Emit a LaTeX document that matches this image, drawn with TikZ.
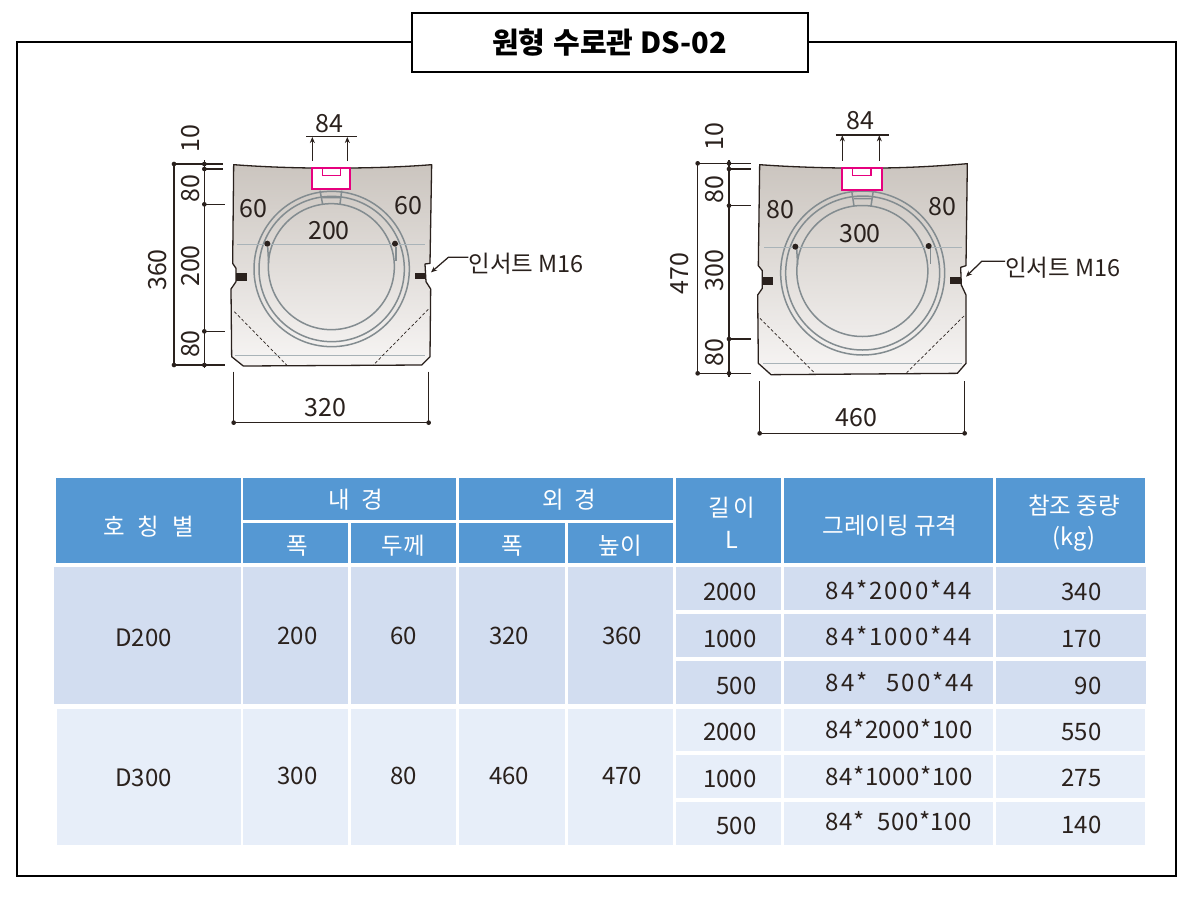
\documentclass[tikz,border=0pt]{standalone}
\usepackage{fontspec}
\setmainfont{Noto Sans CJK KR}
\usetikzlibrary{arrows.meta}
\newfontfamily\spacedfont[LetterSpace=8]{Noto Sans CJK KR}
\newfontfamily\slightfont[LetterSpace=2]{Noto Sans CJK KR}
\definecolor{hdr}{HTML}{5598D3}
\definecolor{rowa}{HTML}{D2DDF0}
\definecolor{rowb}{HTML}{E7EEF9}
\definecolor{ink}{HTML}{2A211D}
\definecolor{ringc}{HTML}{838C90}
\definecolor{thin}{HTML}{A9B3B8}
\definecolor{mag}{HTML}{E6007E}
\definecolor{bodytop}{HTML}{CBC5BF}
\definecolor{bodybot}{HTML}{F7F5F4}
\newcommand{\fs}[1]{\fontsize{#1}{#1}\selectfont}
\newcommand{\gapp}[1]{\hspace{#1pt}}
\tikzset{
  frameline/.style={draw=black,line width=2pt},
  bodyline/.style={draw=ink,line width=1.3pt,line join=round},
  ring/.style={draw=ringc,line width=1.5pt},
  thinline/.style={draw=thin,line width=0.9pt},
  dashline/.style={draw=ink,line width=0.7pt,dash pattern=on 3pt off 2.2pt},
  dim/.style={draw=ink,line width=1.25pt},
  dimarrow/.style={draw=ink,line width=1.25pt,-{Stealth[length=6pt,width=5pt]}},
  dot/.style={fill=ink},
  magbox/.style={draw=mag,line width=2pt,fill=white},
  maginner/.style={draw=mag,line width=1.4pt},
  lab/.style={text=ink,inner sep=0pt,font=\fs{25}},
  rlab/.style={lab,rotate=90},
  hd/.style={text=white,inner sep=0pt,font=\fs{23.5}},
  cellt/.style={text=ink,inner sep=0pt,font=\fs{24}},
  numr/.style={cellt,anchor=base east},
  numl/.style={cellt,anchor=base west},
}
\newcommand{\cell}[5]{\fill[#5] (#1,#2) rectangle (#3,#4);}
\begin{document}
\begin{tikzpicture}[x=1pt,y=-1pt]
\useasboundingbox (0,0) rectangle (1200,898);
\fill[white] (0,0) rectangle (1200,898);
% frame and title
\draw[frameline] (17,42) rectangle (1176,875.5);
\node[draw=black,line width=2pt,fill=white,minimum width=396pt,minimum height=59pt,inner sep=0pt,anchor=center,font=\fs{29}\bfseries] (title) at (609.5,42.5) {원형\hspace{8pt}수로관 DS-02};

% ---------- left section ----------
\begin{scope}[shift={(140,100)},x=0.33333pt,y=-0.33333pt]
\shade[top color=bodytop,bottom color=bodybot] (281,194) .. controls (360,200) and (440,203) .. (515,204) -- (632,204) .. controls (720,203) and (800,200) .. (875,194) -- (870,490) -- (855,492) -- (858,545) -- (872,567) -- (870,770) -- (845,795) -- (310,798) -- (275,770) -- (273,567) -- (288,545) -- (288,505) -- (278,490) -- cycle;
\draw[ring] (575,507) circle[radius=233];
\draw[ring] (575,507) circle[radius=218];
\draw[ring] (574,500) circle[radius=189];
\draw[ring] (540,272) -- (548,313) (605,272) -- (600,313) (548,293) -- (600,293);
\draw[thinline] (292,434) -- (855,434);
\draw[thinline] (285,766) -- (855,766);
\draw[ring] (383,440) -- (386,490);
\draw[ring] (768,440) -- (768,482);
\draw[dashline] (283,635) -- (440,795);
\draw[dashline] (865,628) -- (700,795);
\draw[bodyline] (281,194) .. controls (360,200) and (440,203) .. (515,204) -- (632,204) .. controls (720,203) and (800,200) .. (875,194) -- (870,490) -- (855,492) -- (858,545) -- (872,567) -- (870,770) -- (845,795) -- (310,798) -- (275,770) -- (273,567) -- (288,545) -- (288,505) -- (278,490) -- cycle;
\fill[ink] (288,518) rectangle (320,542);
\fill[ink] (826,518) rectangle (858,538);
\fill[dot] (382,431) circle[radius=9];
\fill[dot] (765,431) circle[radius=9];
\draw[magbox] (516,203) rectangle (630,268);
\draw[maginner] (547,204) -- (547,226) -- (602,226) -- (602,204);
% dimensions
\draw[dim] (98,192) -- (250,192) (190,207) -- (250,207) (190,313) -- (255,313) (190,694) -- (255,694) (98,795) -- (255,795);
\draw[dim] (102,192) -- (102,795) (193,180) -- (193,805);
\foreach \px/\py in {102/192,102/795,193/192,193/207,193/313,193/694,193/795}{\fill[dot] (\px,\py) circle[radius=7];}
\draw[dim] (498,110) -- (650,110);
\draw[dimarrow] (517,183) -- (517,111);
\draw[dimarrow] (622,183) -- (622,111);
\draw[dim] (281,815) -- (281,968) (866,815) -- (866,968) (281,968) -- (866,968);
\fill[dot] (281,968) circle[radius=7];
\fill[dot] (866,968) circle[radius=7];
\node[lab] (la) at (568,70) {84};
\node[rlab] (lb) at (152,115) {10};
\node[rlab] (lc) at (152,265) {80};
\node[rlab] (ld) at (152,498) {200};
\node[rlab] (le) at (152,732) {80};
\node[rlab] (lf) at (52,510) {360};
\node[lab] (lg) at (340,325) {60};
\node[lab] (lh) at (805,318) {60};
\node[lab] (li) at (567,393) {200};
\node[lab] (lj) at (557,922) {320};
\node[lab,anchor=west,font=\fs{23.5}] (lk) at (985,490) {인서트 M16};
\coordinate (lbend) at (925,472);
\coordinate (ltip) at (873,517);
\draw[dimarrow] (lk.west |- lbend) -- (lbend) -- (ltip);
\end{scope}

% ---------- right section ----------
\begin{scope}[shift={(660,100)},x=0.33333pt,y=-0.33333pt]
\shade[top color=bodytop,bottom color=bodybot] (299,194) .. controls (380,200) and (470,203) .. (545,204) -- (665,204) .. controls (750,203) and (840,198) .. (922,191) -- (918,497) -- (902,502) -- (904,555) -- (918,585) -- (918,790) -- (892,820) -- (333,824) -- (295,790) -- (293,585) -- (307,565) -- (307,512) -- (295,497) -- cycle;
\draw[ring] (608,519) circle[radius=246];
\draw[ring] (608,519) circle[radius=231];
\draw[ring] (607,513) circle[radius=196.5];
\draw[ring] (575,272) -- (582,318) (640,272) -- (633,318) (582,296) -- (633,296);
\draw[thinline] (313,443) -- (905,443);
\draw[thinline] (310,790) -- (905,790);
\draw[ring] (410,445) -- (413,495);
\draw[ring] (812,445) -- (812,492);
\draw[dashline] (300,655) -- (465,820);
\draw[dashline] (912,648) -- (740,818);
\draw[bodyline] (299,194) .. controls (380,200) and (470,203) .. (545,204) -- (665,204) .. controls (750,203) and (840,198) .. (922,191) -- (918,497) -- (902,502) -- (904,555) -- (918,585) -- (918,790) -- (892,820) -- (333,824) -- (295,790) -- (293,585) -- (307,565) -- (307,512) -- (295,497) -- cycle;
\fill[ink] (307,530) rectangle (340,555);
\fill[ink] (870,530) rectangle (903,551);
\fill[dot] (406,440) circle[radius=9];
\fill[dot] (806,438) circle[radius=9];
\draw[magbox] (546,203) rectangle (665,270);
\draw[maginner] (578,204) -- (578,226) -- (633,226) -- (633,204);
\draw[dim] (108,190) -- (272,190) (205,207) -- (272,207) (205,317) -- (272,317) (205,717) -- (272,717) (108,820) -- (272,820);
\draw[dim] (113,190) -- (113,820) (207,180) -- (207,830);
\foreach \px/\py in {113/190,113/820,207/190,207/207,207/317,207/717,207/820}{\fill[dot] (\px,\py) circle[radius=7];}
\draw[dim] (527,105) -- (687,105);
\draw[dimarrow] (547,182) -- (547,106);
\draw[dimarrow] (658,182) -- (658,106);
\draw[dim] (299,843) -- (299,1000) (914,843) -- (914,1000) (299,1000) -- (914,1000);
\fill[dot] (299,1000) circle[radius=7];
\fill[dot] (914,1000) circle[radius=7];
\node[lab] (ra) at (600,62) {84};
\node[rlab] (rb) at (165,110) {10};
\node[rlab] (rc) at (165,268) {80};
\node[rlab] (rd) at (165,512) {300};
\node[rlab] (re) at (165,757) {80};
\node[rlab] (rf) at (60,520) {470};
\node[lab] (rg) at (362,330) {80};
\node[lab] (rh) at (847,320) {80};
\node[lab] (ri) at (600,400) {300};
\node[lab] (rj) at (590,952) {460};
\node[lab,anchor=west,font=\fs{23.5}] (rk) at (1035,502) {인서트 M16};
\coordinate (rbend) at (965,484);
\coordinate (rtip) at (918,530);
\draw[dimarrow] (rk.west |- rbend) -- (rbend) -- (rtip);
\end{scope}

% ---------- table cells ----------
\cell{56}{478}{241}{563}{hdr}
\cell{243}{478}{455.5}{520}{hdr}
\cell{459}{478}{673}{520}{hdr}
\cell{243}{523}{348}{563}{hdr}
\cell{351}{523}{455.5}{563}{hdr}
\cell{459}{523}{565}{563}{hdr}
\cell{568}{523}{673}{563}{hdr}
\cell{676}{478}{781}{563}{hdr}
\cell{784.3}{478}{992.7}{563}{hdr}
\cell{996}{478}{1144.7}{563}{hdr}
\cell{54}{566.7}{241}{704.3}{rowa}
\cell{243}{566.7}{348}{704.3}{rowa}
\cell{351}{566.7}{455.5}{704.3}{rowa}
\cell{459}{566.7}{565}{704.3}{rowa}
\cell{568}{566.7}{673}{704.3}{rowa}
\foreach \ya/\yb in {566.7/610,614/656.7,660.7/704.3}{
  \cell{676}{\ya}{781}{\yb}{rowa}
  \cell{784.3}{\ya}{992.7}{\yb}{rowa}
  \cell{996}{\ya}{1146}{\yb}{rowa}
}
\cell{57}{709}{241}{845}{rowb}
\cell{243}{709}{348}{845}{rowb}
\cell{351}{709}{455.5}{845}{rowb}
\cell{459}{709}{565}{845}{rowb}
\cell{568}{709}{673}{845}{rowb}
\foreach \ya/\yb in {709/751,755/797.7,801.7/845}{
  \cell{676}{\ya}{781}{\yb}{rowb}
  \cell{784.3}{\ya}{992.7}{\yb}{rowb}
  \cell{996}{\ya}{1144.7}{\yb}{rowb}
}
% header text
\node[hd] (h1) at (148.6,526.7) {호\gapp{13}칭\gapp{13}별};
\node[hd] (h2) at (355.6,500) {내\gapp{11}경};
\node[hd] (h3) at (569.4,500) {외\gapp{11}경};
\node[hd] (h4) at (297,546) {폭};
\node[hd] (h5) at (403,546) {두께};
\node[hd] (h6) at (512,546) {폭};
\node[hd] (h7) at (620,546) {높이};
\node[hd] (h8) at (731.7,508) {길\gapp{4}이};
\node[hd] (h9) at (732,540) {L};
\node[hd] (h10) at (890,526) {그레이팅 규격};
\node[hd] (h11) at (1074,506) {참조 중량};
\node[hd] (h12) at (1074,539) {(kg)};
% merged cells
\node[cellt] (d1) at (143.5,638) {D200};
\node[cellt] (d2) at (297.6,635.7) {200};
\node[cellt] (d3) at (403.6,635.7) {60};
\node[cellt] (d4) at (509,635.7) {320};
\node[cellt] (d5) at (622,635.7) {360};
\node[cellt] (e1) at (143.5,778) {D300};
\node[cellt] (e2) at (297.6,776) {300};
\node[cellt] (e3) at (403.6,776) {80};
\node[cellt] (e4) at (509,776) {460};
\node[cellt] (e5) at (622,776) {470};
% length
\node[numr] (n1) at (756.7,600.5) {2000};
\node[numr] (n2) at (756.7,647) {1000};
\node[numr] (n3) at (756.7,694) {500};
\node[numr] (n4) at (756.7,740.5) {2000};
\node[numr] (n5) at (756.7,787) {1000};
\node[numr] (n6) at (756.7,834) {500};
% grating
\node[numl] (g1) at (825.7,599) {\spacedfont 84*2000*44};
\node[numl] (g2) at (825.7,645) {\spacedfont 84*1000*44};
\node[numl] (g3) at (825.7,691.5) {\spacedfont 84*\gapp{19}500*44};
\node[numl] (g4) at (825.7,738) {\slightfont 84*2000*100};
\node[numl] (g5) at (825.7,785) {\slightfont 84*1000*100};
\node[numl] (g6) at (825.7,830.5) {\slightfont 84*\gapp{13}500*100};
% weight
\node[numr] (w1) at (1101.7,600.5) {340};
\node[numr] (w2) at (1101.7,647) {170};
\node[numr] (w3) at (1101.7,694) {90};
\node[numr] (w4) at (1101.7,740.5) {550};
\node[numr] (w5) at (1101.7,786.5) {275};
\node[numr] (w6) at (1101.7,833) {140};
\end{tikzpicture}
\end{document}
